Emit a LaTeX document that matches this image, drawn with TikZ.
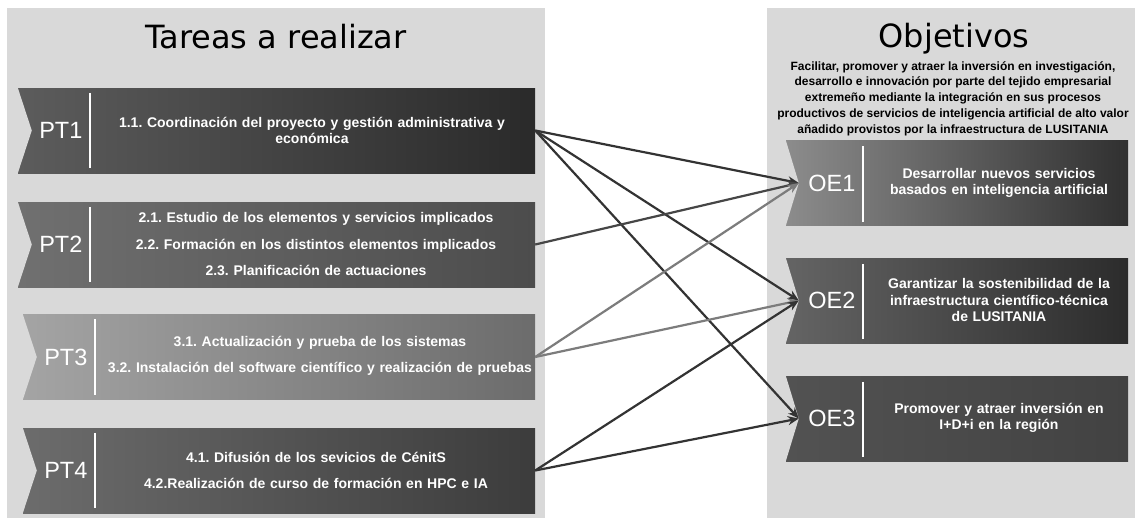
\documentclass[tikz,border=0pt]{standalone}
\usepackage{fontspec}
\setmainfont{Liberation Sans}
\newfontfamily\titlefont{DejaVu Sans}
\usetikzlibrary{arrows.meta}
\frenchspacing
\definecolor{panel}{HTML}{D9D9D9}
\definecolor{linkdark}{HTML}{333333}
\definecolor{linkmid}{HTML}{464646}
\definecolor{linklight}{HTML}{7C7C7C}

\begin{document}
\begin{tikzpicture}[x=1pt,y=-1pt,
    box/.style={minimum height=85pt, inner sep=0pt},
    tag/.style={text=white, font=\fontsize{23.5}{23.5}\selectfont},
    txt/.style={text=white, align=center, text width=440pt, font=\bfseries\fontsize{14}{16}\selectfont},
    txtwide/.style={txt, font=\bfseries\fontsize{14}{26.5}\selectfont},
    oetxt/.style={txt, text width=250pt, font=\bfseries\fontsize{14}{16.5}\selectfont},
    title/.style={font=\titlefont\fontsize{32}{32}\selectfont, anchor=base},
    link/.style={line width=2.2pt, -{Stealth[length=11pt,width=9pt]}}]
  \fill[white] (0,0) rectangle (1138,520);
  \useasboundingbox (0,0) rectangle (1138,520);
  \fill[panel] (7,8) rectangle (545,518);
  \fill[panel] (767,8) rectangle (1135,518);

  \node[title] (tareas) at (276,48) {Tareas a realizar};
  \node[title] (objetivos) at (954,47) {Objetivos};
  \node[align=center, font=\bfseries\fontsize{12}{15.8}\selectfont] (general) at (953,98.5) {Facilitar, promover y atraer la inversión en investigación,\\desarrollo e innovación por parte del tejido empresarial\\extremeño mediante la integración en sus procesos\\productivos de servicios de inteligencia artificial de alto valor\\añadido provistos por la infraestructura de LUSITANIA};

  \node[box, minimum width=517pt, left color={rgb,255:red,92;green,92;blue,92}, right color={rgb,255:red,42;green,42;blue,42}] (pt1) at (276.5,130.5) {};
  \node[box, minimum width=517pt, left color={rgb,255:red,112;green,112;blue,112}, right color={rgb,255:red,76;green,76;blue,76}] (pt2) at (276.5,244.5) {};
  \node[box, minimum width=512pt, left color={rgb,255:red,164;green,164;blue,164}, right color={rgb,255:red,108;green,108;blue,108}] (pt3) at (279,357) {};
  \node[box, minimum width=512pt, left color={rgb,255:red,108;green,108;blue,108}, right color={rgb,255:red,60;green,60;blue,60}] (pt4) at (279,470.5) {};

  \node[box, minimum width=342pt, left color={rgb,255:red,140;green,140;blue,140}, right color={rgb,255:red,48;green,48;blue,48}] (oe1) at (957,183) {};
  \node[box, minimum width=342pt, left color={rgb,255:red,100;green,100;blue,100}, right color={rgb,255:red,44;green,44;blue,44}] (oe2) at (957,300.5) {};
  \node[box, minimum width=342pt, left color={rgb,255:red,82;green,82;blue,82}, right color={rgb,255:red,66;green,66;blue,66}] (oe3) at (957,418.5) {};

  \foreach \b in {pt1,pt2,pt3,pt4} {
    \fill[panel] (\b.north west) -- ([xshift=14pt]\b.west) -- (\b.south west) -- cycle;
    \draw[white, line width=1.5pt] ([xshift=72pt,yshift=-5pt]\b.north west) -- ([xshift=72pt,yshift=5pt]\b.south west);
  }
  \foreach \b in {oe1,oe2,oe3} {
    \fill[panel] (\b.north west) -- ([xshift=13pt]\b.west) -- (\b.south west) -- cycle;
    \draw[white, line width=1.5pt] ([xshift=77pt,yshift=-6pt]\b.north west) -- ([xshift=77pt,yshift=4pt]\b.south west);
    \coordinate (\b tip) at ([xshift=13pt]\b.west);
  }

  \node[tag] (pt1tag) at ([xshift=43pt]pt1.west) {PT1};
  \node[tag] (pt2tag) at ([xshift=43pt]pt2.west) {PT2};
  \node[tag] (pt3tag) at ([xshift=43pt]pt3.west) {PT3};
  \node[tag] (pt4tag) at ([xshift=43pt]pt4.west) {PT4};
  \node[tag] (oe1tag) at ([xshift=46pt]oe1.west) {OE1};
  \node[tag] (oe2tag) at ([xshift=46pt]oe2.west) {OE2};
  \node[tag] (oe3tag) at ([xshift=46pt]oe3.west) {OE3};

  \node[txt] (pt1txt) at (312,130.5) {1.1. Coordinación del proyecto y gestión administrativa y\\económica};
  \node[txtwide] (pt2txt) at (316,244.5) {2.1. Estudio de los elementos y servicios implicados\\2.2. Formación en los distintos elementos implicados\\2.3. Planificación de actuaciones};
  \node[txtwide] (pt3txt) at (320,356) {3.1. Actualización y prueba de los sistemas\\3.2. Instalación del software científico y realización de pruebas};
  \node[txtwide] (pt4txt) at (316,470.5) {4.1. Difusión de los sevicios de CénitS\\4.2.Realización de curso de formación en HPC e IA};
  \node[oetxt] (oe1txt) at (999,183) {Desarrollar nuevos servicios\\basados en inteligencia artificial};
  \node[oetxt] (oe2txt) at (999,300) {Garantizar la sostenibilidad de la\\infraestructura científico-técnica\\de LUSITANIA};
  \node[oetxt] (oe3txt) at (999,418) {Promover y atraer inversión en\\I+D+i en la región};

  \draw[link, linkdark] (pt1.east) -- (oe1tip);
  \draw[link, linkdark] (pt1.east) -- (oe2tip);
  \draw[link, linkdark] (pt1.east) -- (oe3tip);
  \draw[link, linkmid] (pt2.east) -- (oe1tip);
  \draw[link, linklight] (pt3.east) -- (oe1tip);
  \draw[link, linklight] (pt3.east) -- (oe2tip);
  \draw[link, linkdark] (pt4.east) -- (oe2tip);
  \draw[link, linkdark] (pt4.east) -- (oe3tip);
\end{tikzpicture}
\end{document}
